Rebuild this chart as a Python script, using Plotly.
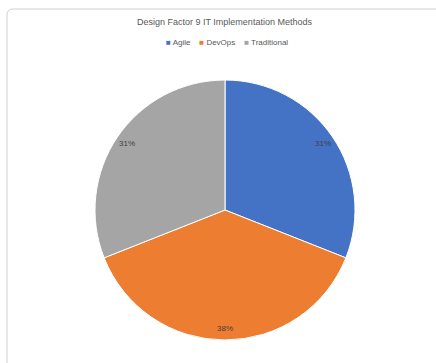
import math
import plotly.graph_objects as go

# Share of IT implementation methods
methods = ["Agile", "DevOps", "Traditional"]
shares = [31, 38, 31]
colors = ["#4472C4", "#ED7D31", "#A5A5A5"]
title_text = "Design Factor 9 IT Implementation Methods"

W, H = 436, 363
# pie placement in pixels (center and radius)
cx, cy, rad = 225, 210, 130

fig = go.Figure(
    go.Pie(
        labels=methods,
        values=shares,
        marker=dict(colors=colors, line=dict(color="white", width=1)),
        sort=False,
        direction="clockwise",
        rotation=0,
        textinfo="none",
        hoverinfo="label+percent",
        showlegend=False,
        domain=dict(
            x=[(cx - rad) / W, (cx + rad) / W],
            y=[(H - cy - rad) / H, (H - cy + rad) / H],
        ),
    )
)

annotations = []
# percentage labels near the rim, along each slice's mid angle
total = sum(shares)
start = 0.0
for v in shares:
    frac = v / total
    mid = (start + frac / 2) * 2 * math.pi
    start += frac
    px = cx + 0.91 * rad * math.sin(mid)
    py = cy - 0.91 * rad * math.cos(mid)
    annotations.append(
        dict(
            x=px / W, y=1 - py / H, xref="paper", yref="paper",
            text=f"{round(frac * 100)}%", showarrow=False,
            font=dict(family="Liberation Sans", size=8, color="#404040"),
            xanchor="center", yanchor="middle",
        )
    )

# title
annotations.append(
    dict(
        x=225 / W, y=1 - 22 / H, xref="paper", yref="paper",
        text=title_text, showarrow=False,
        font=dict(family="Liberation Sans", size=9, color="#595959"),
        xanchor="center", yanchor="middle",
    )
)

# legend row
legend_html = "    ".join(
    f'<span style="color:{c}">■</span> {m}' for m, c in zip(methods, colors)
)
annotations.append(
    dict(
        x=227 / W, y=1 - 42 / H, xref="paper", yref="paper",
        text=legend_html, showarrow=False,
        font=dict(family="Liberation Sans", size=8, color="#595959"),
        xanchor="center", yanchor="middle",
    )
)

# chart frame with rounded corner (open to the right and bottom)
x0, y0 = 7 / W, 1 - 9 / H
rx, ry = 6 / W, 6 / H
frame_path = (
    f"M {x0},{-0.05} L {x0},{y0 - ry} Q {x0},{y0} {x0 + rx},{y0} L 1.05,{y0}"
)

fig.update_layout(
    width=W,
    height=H,
    margin=dict(l=0, r=0, t=0, b=0),
    paper_bgcolor="white",
    plot_bgcolor="white",
    annotations=annotations,
    shapes=[
        dict(type="path", path=frame_path, xref="paper", yref="paper",
             line=dict(color="#D0D0D0", width=1))
    ],
)

fig.write_html("out.html")
